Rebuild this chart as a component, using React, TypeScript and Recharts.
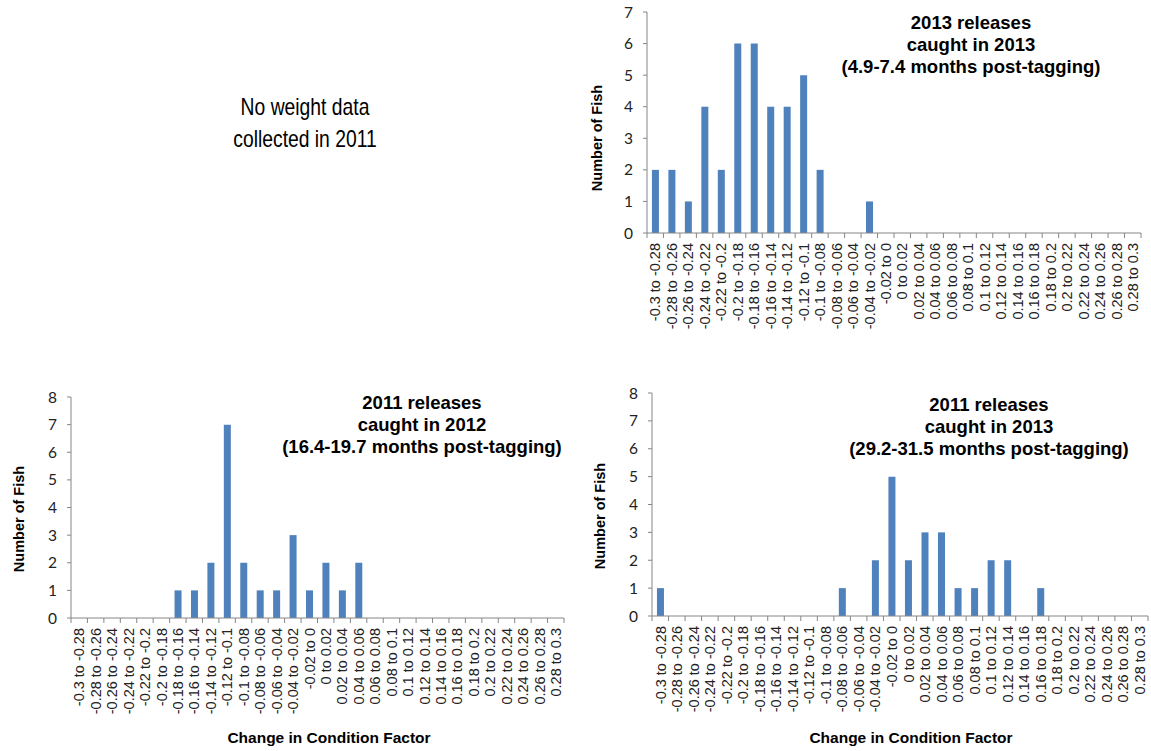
import React from 'react'
import { BarChart, Bar, XAxis, YAxis } from 'recharts'

const categories = [
  '-0.3 to -0.28', '-0.28 to -0.26', '-0.26 to -0.24', '-0.24 to -0.22', '-0.22 to -0.2',
  '-0.2 to -0.18', '-0.18 to -0.16', '-0.16 to -0.14', '-0.14 to -0.12', '-0.12 to -0.1',
  '-0.1 to -0.08', '-0.08 to -0.06', '-0.06 to -0.04', '-0.04 to -0.02', '-0.02 to 0',
  '0 to 0.02', '0.02 to 0.04', '0.04 to 0.06', '0.06 to 0.08', '0.08 to 0.1',
  '0.1 to 0.12', '0.12 to 0.14', '0.14 to 0.16', '0.16 to 0.18', '0.18 to 0.2',
  '0.2 to 0.22', '0.22 to 0.24', '0.24 to 0.26', '0.26 to 0.28', '0.28 to 0.3',
]

// number of fish per bin
const rel2013caught2013 = [2, 2, 1, 4, 2, 6, 6, 4, 4, 5, 2, 0, 0, 1, 0, 0, 0, 0, 0, 0, 0, 0, 0, 0, 0, 0, 0, 0, 0, 0]
const rel2011caught2012 = [0, 0, 0, 0, 0, 0, 1, 1, 2, 7, 2, 1, 1, 3, 1, 2, 1, 2, 0, 0, 0, 0, 0, 0, 0, 0, 0, 0, 0, 0]
const rel2011caught2013 = [1, 0, 0, 0, 0, 0, 0, 0, 0, 0, 0, 1, 0, 2, 5, 2, 3, 3, 1, 1, 2, 2, 0, 1, 0, 0, 0, 0, 0, 0]

const yTicks7 = [0, 1, 2, 3, 4, 5, 6, 7]
const yTicks8 = [0, 1, 2, 3, 4, 5, 6, 7, 8]

const AXIS = '#868686'
const BAR = '#4F81BD'
const ARIAL = '"Liberation Sans", Arial, sans-serif'

const toRows = (values: number[]) => categories.map((bin, i) => ({ bin, fish: values[i] }))

const makeBinTick = (band: number) => (props: any) => {
  const { x, y, payload, index } = props
  return (
    <g>
      <line x1={x - band / 2} x2={x - band / 2} y1={y} y2={y + 5} stroke={AXIS} />
      {index === categories.length - 1 && (
        <line x1={x + band / 2} x2={x + band / 2} y1={y} y2={y + 5} stroke={AXIS} />
      )}
      <text
        transform={`translate(${x},${y + 10}) rotate(-90)`}
        textAnchor="end"
        dy="0.36em"
        fontSize={14.5}
        fontFamily={ARIAL}
        fill="#222"
      >
        {payload.value}
      </text>
    </g>
  )
}

interface HistProps {
  values: number[]
  left: number
  top: number
  width: number
  height: number
  axisLeft: number
  plotTop: number
  plotRight: number
  plotBottom: number
  yMax: number
  yTicks: number[]
}

function Histogram({ values, left, top, width, height, axisLeft, plotTop, plotRight, plotBottom, yMax, yTicks }: HistProps) {
  const band = (plotRight - axisLeft) / categories.length
  return (
    <div style={{ position: 'absolute', left, top, width, height }}>
      <BarChart
        width={width}
        height={height}
        data={toRows(values)}
        margin={{ top: plotTop - top, right: left + width - plotRight, left: 0, bottom: 0 }}
        barCategoryGap="30%"
      >
        <XAxis
          dataKey="bin"
          interval={0}
          height={top + height - plotBottom}
          stroke={AXIS}
          tickLine={false}
          tickSize={0}
          tickMargin={0}
          tick={makeBinTick(band)}
        />
        <YAxis
          width={axisLeft - left}
          domain={[0, yMax]}
          ticks={yTicks}
          interval={0}
          stroke={AXIS}
          tickSize={4}
          tickMargin={10}
          tick={{ fontSize: 15.5, fill: '#222', fontFamily: 'Lato, sans-serif' }}
        />
        <Bar dataKey="fish" fill={BAR} isAnimationActive={false} />
      </BarChart>
    </div>
  )
}

const titleStyle = { fontFamily: ARIAL, fontWeight: 700, fontSize: 18.5, fill: '#000' } as const
const axisTitle = { fontFamily: ARIAL, fontWeight: 700, fontSize: 14.5, fill: '#000' } as const
const xTitle = { fontFamily: ARIAL, fontWeight: 700, fontSize: 15.5, fill: '#000' } as const

export default function App() {
  return (
    <div style={{ position: 'absolute', left: 0, top: 0, width: 1151, height: 751, background: '#fff' }}>
      <Histogram
        values={rel2013caught2013}
        left={580} top={0} width={571} height={345}
        axisLeft={647} plotTop={12} plotRight={1141} plotBottom={233}
        yMax={7} yTicks={yTicks7}
      />
      <Histogram
        values={rel2011caught2012}
        left={0} top={380} width={580} height={371}
        axisLeft={71} plotTop={397} plotRight={564} plotBottom={618}
        yMax={8} yTicks={yTicks8}
      />
      <Histogram
        values={rel2011caught2013}
        left={580} top={380} width={571} height={371}
        axisLeft={652} plotTop={393} plotRight={1148} plotBottom={616}
        yMax={8} yTicks={yTicks8}
      />
      <svg width={1151} height={751} style={{ position: 'absolute', left: 0, top: 0, pointerEvents: 'none' }}>
        <g textAnchor="middle" fontFamily={ARIAL} fontSize={23} fill="#000" transform="translate(305,0) scale(0.84,1)">
          <text x={0} y={115}>No weight data</text>
          <text x={0} y={147}>collected in 2011</text>
        </g>

        <g textAnchor="middle" style={titleStyle}>
          <text x={971} y={29}>2013 releases</text>
          <text x={971} y={51}>caught in 2013</text>
          <text x={971} y={73}>(4.9-7.4 months post-tagging)</text>

          <text x={422} y={409}>2011 releases</text>
          <text x={422} y={431}>caught in 2012</text>
          <text x={422} y={453}>(16.4-19.7 months post-tagging)</text>

          <text x={989} y={411}>2011 releases</text>
          <text x={989} y={433}>caught in 2013</text>
          <text x={989} y={455}>(29.2-31.5 months post-tagging)</text>
        </g>

        <g textAnchor="middle" style={axisTitle}>
          <text transform="translate(602,138) rotate(-90)">Number of Fish</text>
          <text transform="translate(24,519) rotate(-90)">Number of Fish</text>
          <text transform="translate(605,516) rotate(-90)">Number of Fish</text>
        </g>

        <g textAnchor="middle" style={xTitle}>
          <text x={329} y={743}>Change in Condition Factor</text>
          <text x={911} y={743}>Change in Condition Factor</text>
        </g>
      </svg>
    </div>
  )
}
